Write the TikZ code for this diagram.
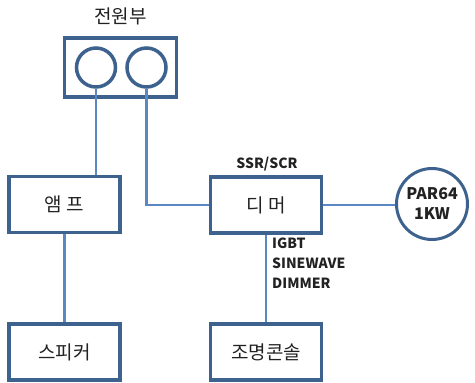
\documentclass[tikz,border=0pt]{standalone}
\usepackage{fontspec}
\setmainfont{Noto Sans CJK KR}
\usetikzlibrary{calc}
\definecolor{frame}{HTML}{3E628E}
\definecolor{wire}{HTML}{5B88C2}
\definecolor{ink}{HTML}{222222}

\begin{document}
\begin{tikzpicture}[x=1pt,y=-1pt,
 unit/.style={draw=frame,line width=3.5pt,minimum width=111pt,minimum height=56pt,inner sep=0pt,font=\fontsize{19}{22}\selectfont,text=ink},
 socket/.style={circle,draw=frame,line width=3.5pt,minimum size=39pt,inner sep=0pt},
 lamp/.style={circle,draw=frame,line width=3pt,minimum size=71pt,inner sep=0pt,align=center,font=\bfseries\fontsize{16}{20}\selectfont,text=ink},
 link/.style={draw=wire,line width=2.5pt},
 tag/.style={font=\bfseries\fontsize{14}{20}\selectfont,text=ink,inner sep=0pt}]
\useasboundingbox (0,0) rectangle (475,383);
\node[unit,minimum width=112pt,minimum height=59pt] (psu) at (120.5,67.5) {};
\node[socket] (psuA) at (96,67.5) {};
\node[socket] (psuB) at (146.5,67.5) {};
\node[font=\fontsize{19}{22}\selectfont,text=ink] (psutitle) at (120.5,16) {전원부};
\node[unit] (amp) at (64.5,204.5) {앰 프};
\node[unit] (spk) at (64.5,352) {스피커};
\node[unit] (dim) at (266,205) {디 머};
\node[unit] (con) at (266,352) {조명콘솔};
\node[lamp] (par) at (432,204) {PAR64\\1KW};
\node[tag] (ssr) at (267,164) {SSR/SCR};
\node[tag,align=left,anchor=north west] (igbt) at (272,238) {IGBT\\SINEWAVE\\DIMMER};
\draw[link] (psuA.south) -- (psuA.south |- amp.north);
\draw[link] (psuB.south) |- (dim.west);
\foreach \a/\b in {amp/spk,dim/con} \draw[link] (\a.south)--(\b.north);
\draw[link] (dim.east) -- (dim.east -| par.west);
\end{tikzpicture}
\end{document}
